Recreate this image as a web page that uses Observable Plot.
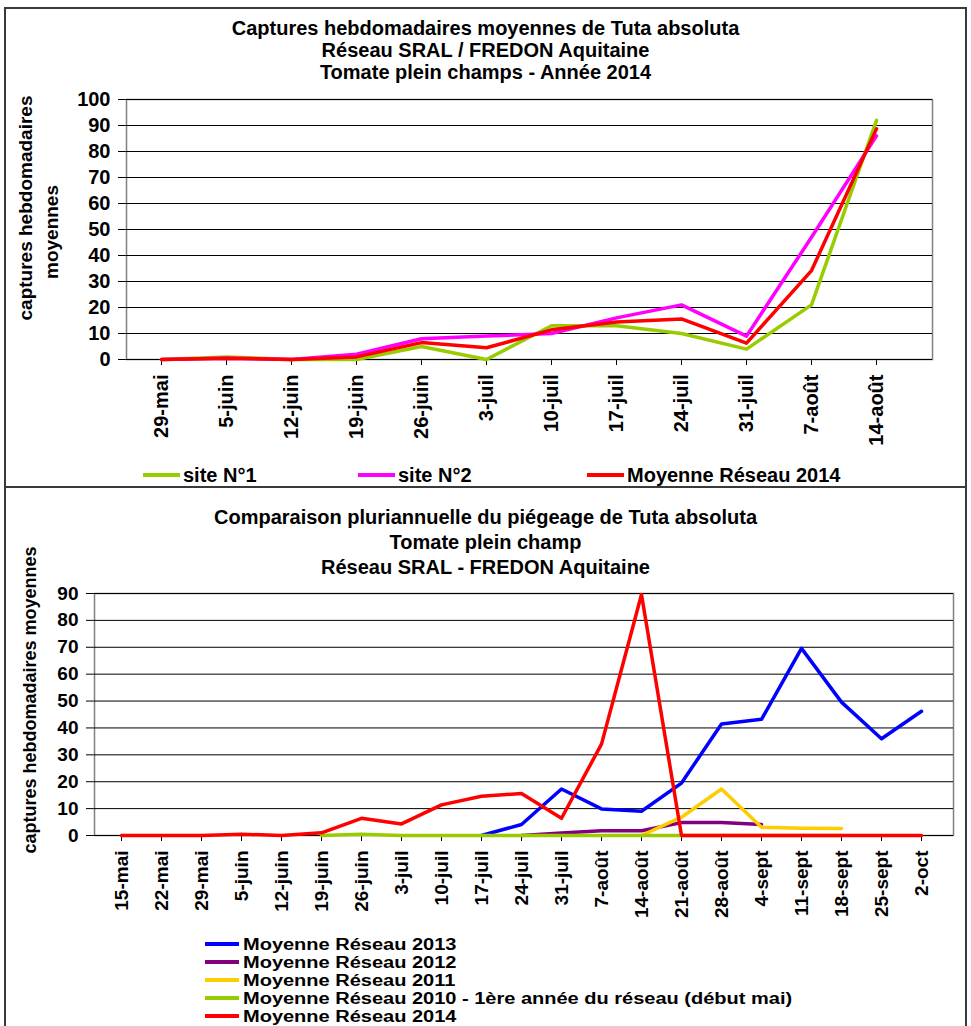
<!DOCTYPE html>
<html>
<head>
<meta charset="utf-8">
<script src="https://cdn.jsdelivr.net/npm/d3@7"></script>
<script src="https://cdn.jsdelivr.net/npm/@observablehq/plot@0.6"></script>
<style>
  html, body { margin: 0; padding: 0; background: #fff; }
  #root { position: relative; width: 971px; height: 1026px; overflow: hidden;
          font-family: "Liberation Sans", Arial, sans-serif; font-weight: bold; color: #000; }
  .frame { position: absolute; box-sizing: border-box; border: 2px solid #3a3a3a; }
  .title { position: absolute; left: 4px; width: 963px; text-align: center; font-size: 20px; }
  .rot { position: absolute; white-space: nowrap; transform: translate(-50%, -50%) rotate(-90deg); }
  .sw { position: absolute; height: 4px; }
  .lg { position: absolute; white-space: nowrap; font-size: 20px; transform: translateY(-50%); }
  .lg2 { position: absolute; white-space: nowrap; font-size: 16px; line-height: 17px;
         transform-origin: 0 50%; transform: translateY(-50%) scaleX(1.25); }
</style>
</head>
<body>
<div id="root"></div>
<script>
// ---------- DATA : chart 1 (2014) ----------
const topCats = ["29-mai","5-juin","12-juin","19-juin","26-juin","3-juil","10-juil","17-juil","24-juil","31-juil","7-août","14-août"];
const site1   = [0, 1,   0, 0, 5,   0,   13,   13,   10,   4,   21,   92];
const site2   = [0, 0.5, 0, 2, 8,   9,   10,   16,   21,   9,   47,   86];
const moyTop  = [0, 0.5, 0, 1, 6.5, 4.5, 11.4, 14.4, 15.6, 6.3, 34.2, 88.7];
const topYTicks = [0,10,20,30,40,50,60,70,80,90,100];
const topSeries = ["site N°1", "site N°2", "Moyenne Réseau 2014"];
const topColors = ["#99CC00", "#FF00FF", "#FF0000"];
const topTitles = ["Captures hebdomadaires moyennes de Tuta absoluta", "Réseau SRAL / FREDON Aquitaine", "Tomate plein champs -  Année 2014"];

// ---------- DATA : chart 2 (multi-year) ----------
const botCats = ["15-mai","22-mai","29-mai","5-juin","12-juin","19-juin","26-juin","3-juil","10-juil","17-juil","24-juil","31-juil","7-août","14-août","21-août","28-août","4-sept","11-sept","18-sept","25-sept","2-oct"];
const r2013 = [null,null,null,null,null,null,null,null,null, 0, 4.1, 17.3, 9.9, 9.0, 19.5, 41.5, 43.2, 69.6, 49.6, 36, 46.2];
const r2012 = [null,null,null,null,null,null,null,null,null,null, 0, 0.9, 1.8, 1.8, 4.8, 4.8, 4.1, null,null,null,null];
const r2011 = [null,null,null,null,null,null,null,null,null,null,null,null,null, 0, 6.8, 17.3, 3.1, 2.7, 2.6, null,null];
const r2010 = [null,null,null,null,null, 0, 0.5, 0, 0, 0, 0, 0, 0, 0, 0, 0, 0, 0, 0, null,null];
const r2014 = [0, 0, 0, 0.5, 0, 1, 6.4, 4.3, 11.4, 14.6, 15.6, 6.4, 34, 89.6, 0, 0, 0, 0, 0, 0, 0];
const botYTicks = [0,10,20,30,40,50,60,70,80,90];
const botSeries = ["Moyenne Réseau 2013", "Moyenne Réseau 2012", "Moyenne Réseau 2011", "Moyenne Réseau 2010 - 1ère année du réseau (début mai)", "Moyenne Réseau 2014"];
const botColors = ["#0000FF", "#800080", "#FFCC00", "#99CC00", "#FF0000"];
const botValues = [r2013, r2012, r2011, r2010, r2014];
const botTitles = ["Comparaison pluriannuelle du piégeage de Tuta absoluta", "Tomate plein champ", "Réseau SRAL - FREDON Aquitaine"];

(function () {
const rows = (cats, vals) => cats.map((c, i) => ({x: c, y: vals[i]})).filter(d => d.y != null);

const root = document.getElementById("root");
function add(html) { root.insertAdjacentHTML("beforeend", html); }

// frames
add(`<div class="frame" style="left:4px;top:7px;width:963px;height:481px"></div>`);
add(`<div class="frame" style="left:4px;top:486px;width:963px;height:600px"></div>`);

const font = {fontFamily: "'Liberation Sans', Arial, sans-serif", fontWeight: "bold", background: "transparent", color: "#000", overflow: "visible"};

// ---------- chart 1 ----------
const W = 971;
const topH = 460;
const chart1 = Plot.plot({
  width: W, height: topH,
  marginLeft: 126, marginRight: W - 932, marginTop: 99, marginBottom: topH - 359,
  style: {...font, fontSize: "20px"},
  x: {type: "point", domain: topCats, range: [126, 911], tickRotate: -90, tickSize: 6, tickPadding: 9, label: null},
  y: {domain: [0, 100], ticks: topYTicks, tickSize: 8, tickPadding: 8, label: null},
  marks: [
    Plot.frame({stroke: "#808080", strokeWidth: 1.5}),
    Plot.ruleY(topYTicks, {stroke: "#000", strokeWidth: 1}),
    Plot.line(rows(topCats, site1), {x: "x", y: "y", stroke: topColors[0], strokeWidth: 3.5}),
    Plot.line(rows(topCats, site2), {x: "x", y: "y", stroke: topColors[1], strokeWidth: 3.5}),
    Plot.line(rows(topCats, moyTop), {x: "x", y: "y", stroke: topColors[2], strokeWidth: 3.5})
  ]
});
chart1.style.position = "absolute"; chart1.style.left = "0px"; chart1.style.top = "0px";
root.appendChild(chart1);

topTitles.forEach((t, i) => add(`<div class="title" style="top:${17 + i * 22}px;line-height:22px">${t}</div>`));
add(`<div class="rot" style="left:26px;top:208px;font-size:19px">captures hebdomadaires</div>`);
add(`<div class="rot" style="left:52px;top:232px;font-size:19px">moyennes</div>`);

const topLegX = [143, 358, 587];
topSeries.forEach((s, i) => {
  add(`<div class="sw" style="left:${topLegX[i]}px;top:473px;width:37px;background:${topColors[i]}"></div>`);
  add(`<div class="lg" style="left:${topLegX[i] + 40}px;top:475px;line-height:22px">${s}</div>`);
});

// ---------- chart 2 ----------
const botTop = 490;
const botH = 440;
const chart2 = Plot.plot({
  width: W, height: botH,
  marginLeft: 94, marginRight: W - 953, marginTop: 593 - botTop, marginBottom: botTop + botH - 835,
  style: {...font, fontSize: "19px"},
  x: {type: "point", domain: botCats, range: [94, 948], tickRotate: -90, tickSize: 6, tickPadding: 9, label: null},
  y: {domain: [0, 90], ticks: botYTicks, tickSize: 8, tickPadding: 8, label: null},
  marks: [
    Plot.frame({stroke: "#808080", strokeWidth: 1.5}),
    Plot.ruleY(botYTicks, {stroke: "#000", strokeWidth: 1}),
    ...botValues.map((v, i) => Plot.line(rows(botCats, v), {x: "x", y: "y", stroke: botColors[i], strokeWidth: 3.5}))
  ]
});
chart2.style.position = "absolute"; chart2.style.left = "0px"; chart2.style.top = botTop + "px";
root.appendChild(chart2);

botTitles.forEach((t, i) => add(`<div class="title" style="top:${505 + i * 25}px;line-height:24px">${t}</div>`));
add(`<div class="rot" style="left:30px;top:700px;font-size:18px">captures hebdomadaires moyennes</div>`);

botSeries.forEach((s, i) => {
  const y = 944 + i * 18;
  add(`<div class="sw" style="left:205px;top:${y - 2}px;width:34px;background:${botColors[i]}"></div>`);
  add(`<div class="lg2" style="left:243px;top:${y}px">${s}</div>`);
});
})();
</script>
</body>
</html>
